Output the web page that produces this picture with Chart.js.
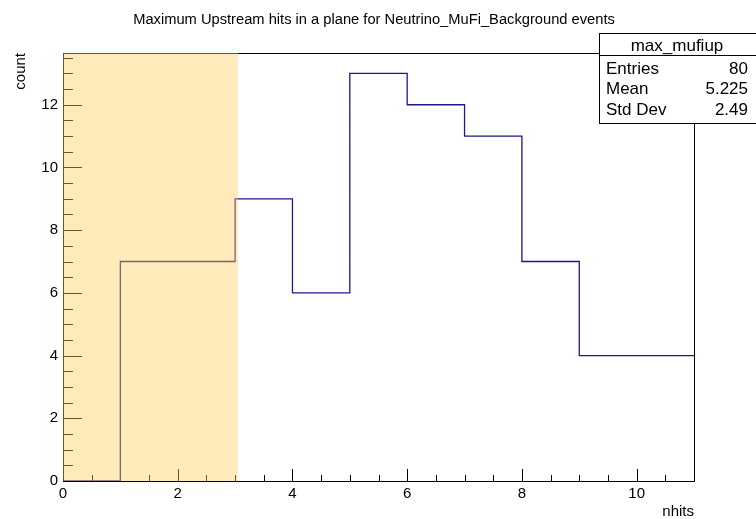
<!DOCTYPE html>
<html>
<head>
<meta charset="utf-8">
<script src="https://cdn.jsdelivr.net/npm/chart.js@4.4.1/dist/chart.umd.min.js"></script>
<style>
  html, body { margin: 0; padding: 0; background: #fff; }
  #wrap { width: 756px; height: 519px; position: relative; }
</style>
</head>
<body>
<div id="wrap"><canvas id="c" width="756" height="519"></canvas></div>
<script>
// ---- data ----
const titleText = "Maximum Upstream hits in a plane for Neutrino_MuFi_Background events";
const histName = "max_mufiup";
const binEdges = [0, 1, 2, 3, 4, 5, 6, 7, 8, 9, 10, 11];
const binCounts = [0, 7, 7, 9, 6, 13, 12, 11, 7, 4, 4];
const xTickLabels = [0, 2, 4, 6, 8, 10];
const yTickLabels = [0, 2, 4, 6, 8, 10, 12];
const statLabels = ["Entries", "Mean", "Std Dev"];
const statValues = ["80", "5.225", "2.49"];
const shadedRange = [0, 3.05];
const xAxisTitle = "nhits";
const yAxisTitle = "count";
const yMax = 13.65;

const FONT = '"Liberation Sans", Arial, Helvetica, sans-serif';

const points = binCounts.map((c, i) => ({ x: binEdges[i], y: c }));
points.push({ x: binEdges[binEdges.length - 1], y: binCounts[binCounts.length - 1] });

const framePlugin = {
  id: 'rootFrame',
  beforeDatasetsDraw(chart) {
    const { ctx, chartArea: a, scales: { x, y } } = chart;
    ctx.save();
    ctx.strokeStyle = '#000';
    ctx.lineWidth = 1;
    ctx.beginPath();
    for (let v = 0; v <= 11.0001; v += 0.5) {
      const px = Math.round(x.getPixelForValue(v)) + 0.5;
      const major = Math.abs(v / 2 - Math.round(v / 2)) < 1e-6;
      const len = major ? 12 : 6;
      ctx.moveTo(px, a.bottom);
      ctx.lineTo(px, a.bottom - len);
    }
    for (let v = 0; v <= yMax + 1e-6; v += 0.5) {
      const py = Math.round(y.getPixelForValue(v)) + 0.5;
      const major = Math.abs(v / 2 - Math.round(v / 2)) < 1e-6;
      const len = major ? 19 : 10;
      ctx.moveTo(a.left, py);
      ctx.lineTo(a.left + len, py);
    }
    ctx.stroke();
    ctx.restore();
  },
  afterDatasetsDraw(chart) {
    const { ctx, chartArea: a, scales: { x } } = chart;
    ctx.save();
    ctx.strokeStyle = '#000';
    ctx.lineWidth = 1;
    ctx.strokeRect(Math.round(a.left) + 0.5, Math.round(a.top) + 0.5,
      Math.round(a.right - a.left), Math.round(a.bottom - a.top));
    const x0 = x.getPixelForValue(shadedRange[0]);
    const x1 = x.getPixelForValue(shadedRange[1]);
    ctx.fillStyle = 'rgba(253,205,90,0.42)';
    ctx.fillRect(x0, a.top, x1 - x0, a.bottom - a.top);
    ctx.restore();
  },
  afterDraw(chart) {
    const { ctx, chartArea: a } = chart;
    ctx.save();
    ctx.fillStyle = '#000';
    ctx.font = '14.7px ' + FONT;
    ctx.textAlign = 'center';
    ctx.textBaseline = 'alphabetic';
    ctx.fillText(titleText, 374, 24);
    ctx.font = '15px ' + FONT;
    ctx.textAlign = 'right';
    ctx.fillText(xAxisTitle, a.right, 516);
    ctx.save();
    ctx.translate(25, a.top);
    ctx.rotate(-Math.PI / 2);
    ctx.textAlign = 'right';
    ctx.fillText(yAxisTitle, 0, 0);
    ctx.restore();
    const bx = 599.5, by = 33.5, bw = 160, bh = 90;
    ctx.fillStyle = '#fff';
    ctx.fillRect(bx, by, bw, bh);
    ctx.strokeStyle = '#000';
    ctx.lineWidth = 1;
    ctx.strokeRect(bx, by, bw, bh);
    ctx.beginPath();
    ctx.moveTo(bx, 55.5);
    ctx.lineTo(bx + bw, 55.5);
    ctx.stroke();
    ctx.fillStyle = '#000';
    ctx.font = '17px ' + FONT;
    ctx.textAlign = 'center';
    ctx.fillText(histName, 677, 51);
    const baselines = [74, 94, 115];
    statLabels.forEach((l, i) => {
      ctx.textAlign = 'left';
      ctx.fillText(l, 606, baselines[i]);
      ctx.textAlign = 'right';
      ctx.fillText(statValues[i], 748, baselines[i]);
    });
    ctx.restore();
  }
};

new Chart(document.getElementById('c'), {
  type: 'line',
  data: {
    datasets: [{
      data: points,
      stepped: 'before',
      borderColor: '#1a1a8c',
      borderWidth: 1.3,
      pointRadius: 0,
      fill: false,
      tension: 0
    }]
  },
  options: {
    responsive: false,
    animation: false,
    devicePixelRatio: 1,
    layout: { padding: { top: 53, right: 62, left: 0, bottom: 0 } },
    plugins: { legend: { display: false }, tooltip: { enabled: false }, title: { display: false } },
    scales: {
      x: {
        type: 'linear', min: 0, max: 11,
        grid: { display: false, drawTicks: false },
        border: { display: false },
        afterBuildTicks(s) { s.ticks = xTickLabels.map(v => ({ value: v })); },
        afterFit(s) { s.height = 38; },
        ticks: { color: '#000', font: { family: FONT, size: 15 }, padding: 4, maxRotation: 0, autoSkip: false }
      },
      y: {
        type: 'linear', min: 0, max: yMax,
        grid: { display: false, drawTicks: false },
        border: { display: false },
        afterBuildTicks(s) { s.ticks = yTickLabels.map(v => ({ value: v })); },
        afterFit(s) { s.width = 63; },
        ticks: { color: '#000', font: { family: FONT, size: 15 }, padding: 5, autoSkip: false }
      }
    }
  },
  plugins: [framePlugin]
});
</script>
</body>
</html>
